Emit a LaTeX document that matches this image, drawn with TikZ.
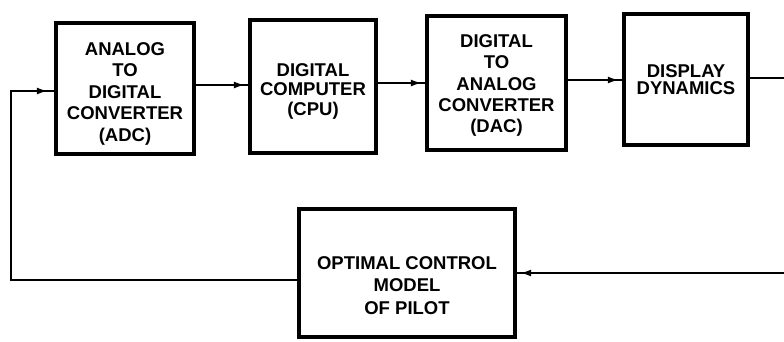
\documentclass[tikz,border=0pt]{standalone}
\usepackage{fontspec}
\setmainfont{Liberation Sans}
\usetikzlibrary{arrows.meta,decorations.markings}
\begin{document}
\begin{tikzpicture}[x=1pt,y=-1pt,
  blk/.style={draw, line width=3.8pt, inner sep=0pt},
  lbl/.style={align=center, inner sep=0pt, font=\fontsize{18.5}{#1}\selectfont\bfseries},
  lbl/.default=21.5,
  wire/.style={line width=2pt},
  conn/.style={wire, postaction={decorate}, decoration={markings,
      mark=at position #1 with {\arrow{Latex[length=11pt,width=7pt]}}}},
  conn/.default=-3pt,
]
\useasboundingbox (0,0) rectangle (784,341);
\node[blk, minimum width=138.5pt, minimum height=131.5pt,
  label={[lbl, yshift=-5pt]center:{ANALOG\\TO\\DIGITAL\\CONVERTER\\(ADC)}}] (adc) at (125,88.5) {};
\node[blk, minimum width=126.5pt, minimum height=133.5pt,
  label={[lbl=19.5, yshift=-4.5pt]center:{DIGITAL\\COMPUTER\\(CPU)}}] (cpu) at (313,86.5) {};
\node[blk, minimum width=139.5pt, minimum height=134.5pt,
  label={[lbl=21.3, yshift=-2.5pt]center:{DIGITAL\\TO\\ANALOG\\CONVERTER\\(DAC)}}] (dac) at (496.5,83) {};
\node[blk, minimum width=124.5pt, minimum height=131.5pt,
  label={[lbl=17, yshift=-0.5pt]center:{DISPLAY\\DYNAMICS}}] (disp) at (686,79.5) {};
\node[blk, minimum width=216.5pt, minimum height=128.5pt,
  label={[lbl=22.5, yshift=-12.5pt]center:{OPTIMAL CONTROL\\MODEL\\OF PILOT}}] (pilot) at (407,273) {};
\coordinate (re) at (784,78);
\coordinate (rb) at (784,273);
\draw[conn] ([yshift=3.5pt]adc.east) -- ([yshift=3.5pt]adc.east -| cpu.west);
\draw[conn] ([yshift=3.5pt]cpu.east) -- ([yshift=3.5pt]cpu.east -| dac.west);
\draw[conn] ([yshift=3pt]dac.east) -- ([yshift=3pt]dac.east -| disp.west);
\draw[wire] (disp.east |- re) -- (re);
\draw[conn] (rb) -- (rb -| pilot.east);
\draw[conn=-6pt] ([yshift=-7pt]pilot.west) -| ([xshift=-43pt,yshift=-2.5pt]adc.west) -- ([yshift=-2.5pt]adc.west);
\end{tikzpicture}
\end{document}
